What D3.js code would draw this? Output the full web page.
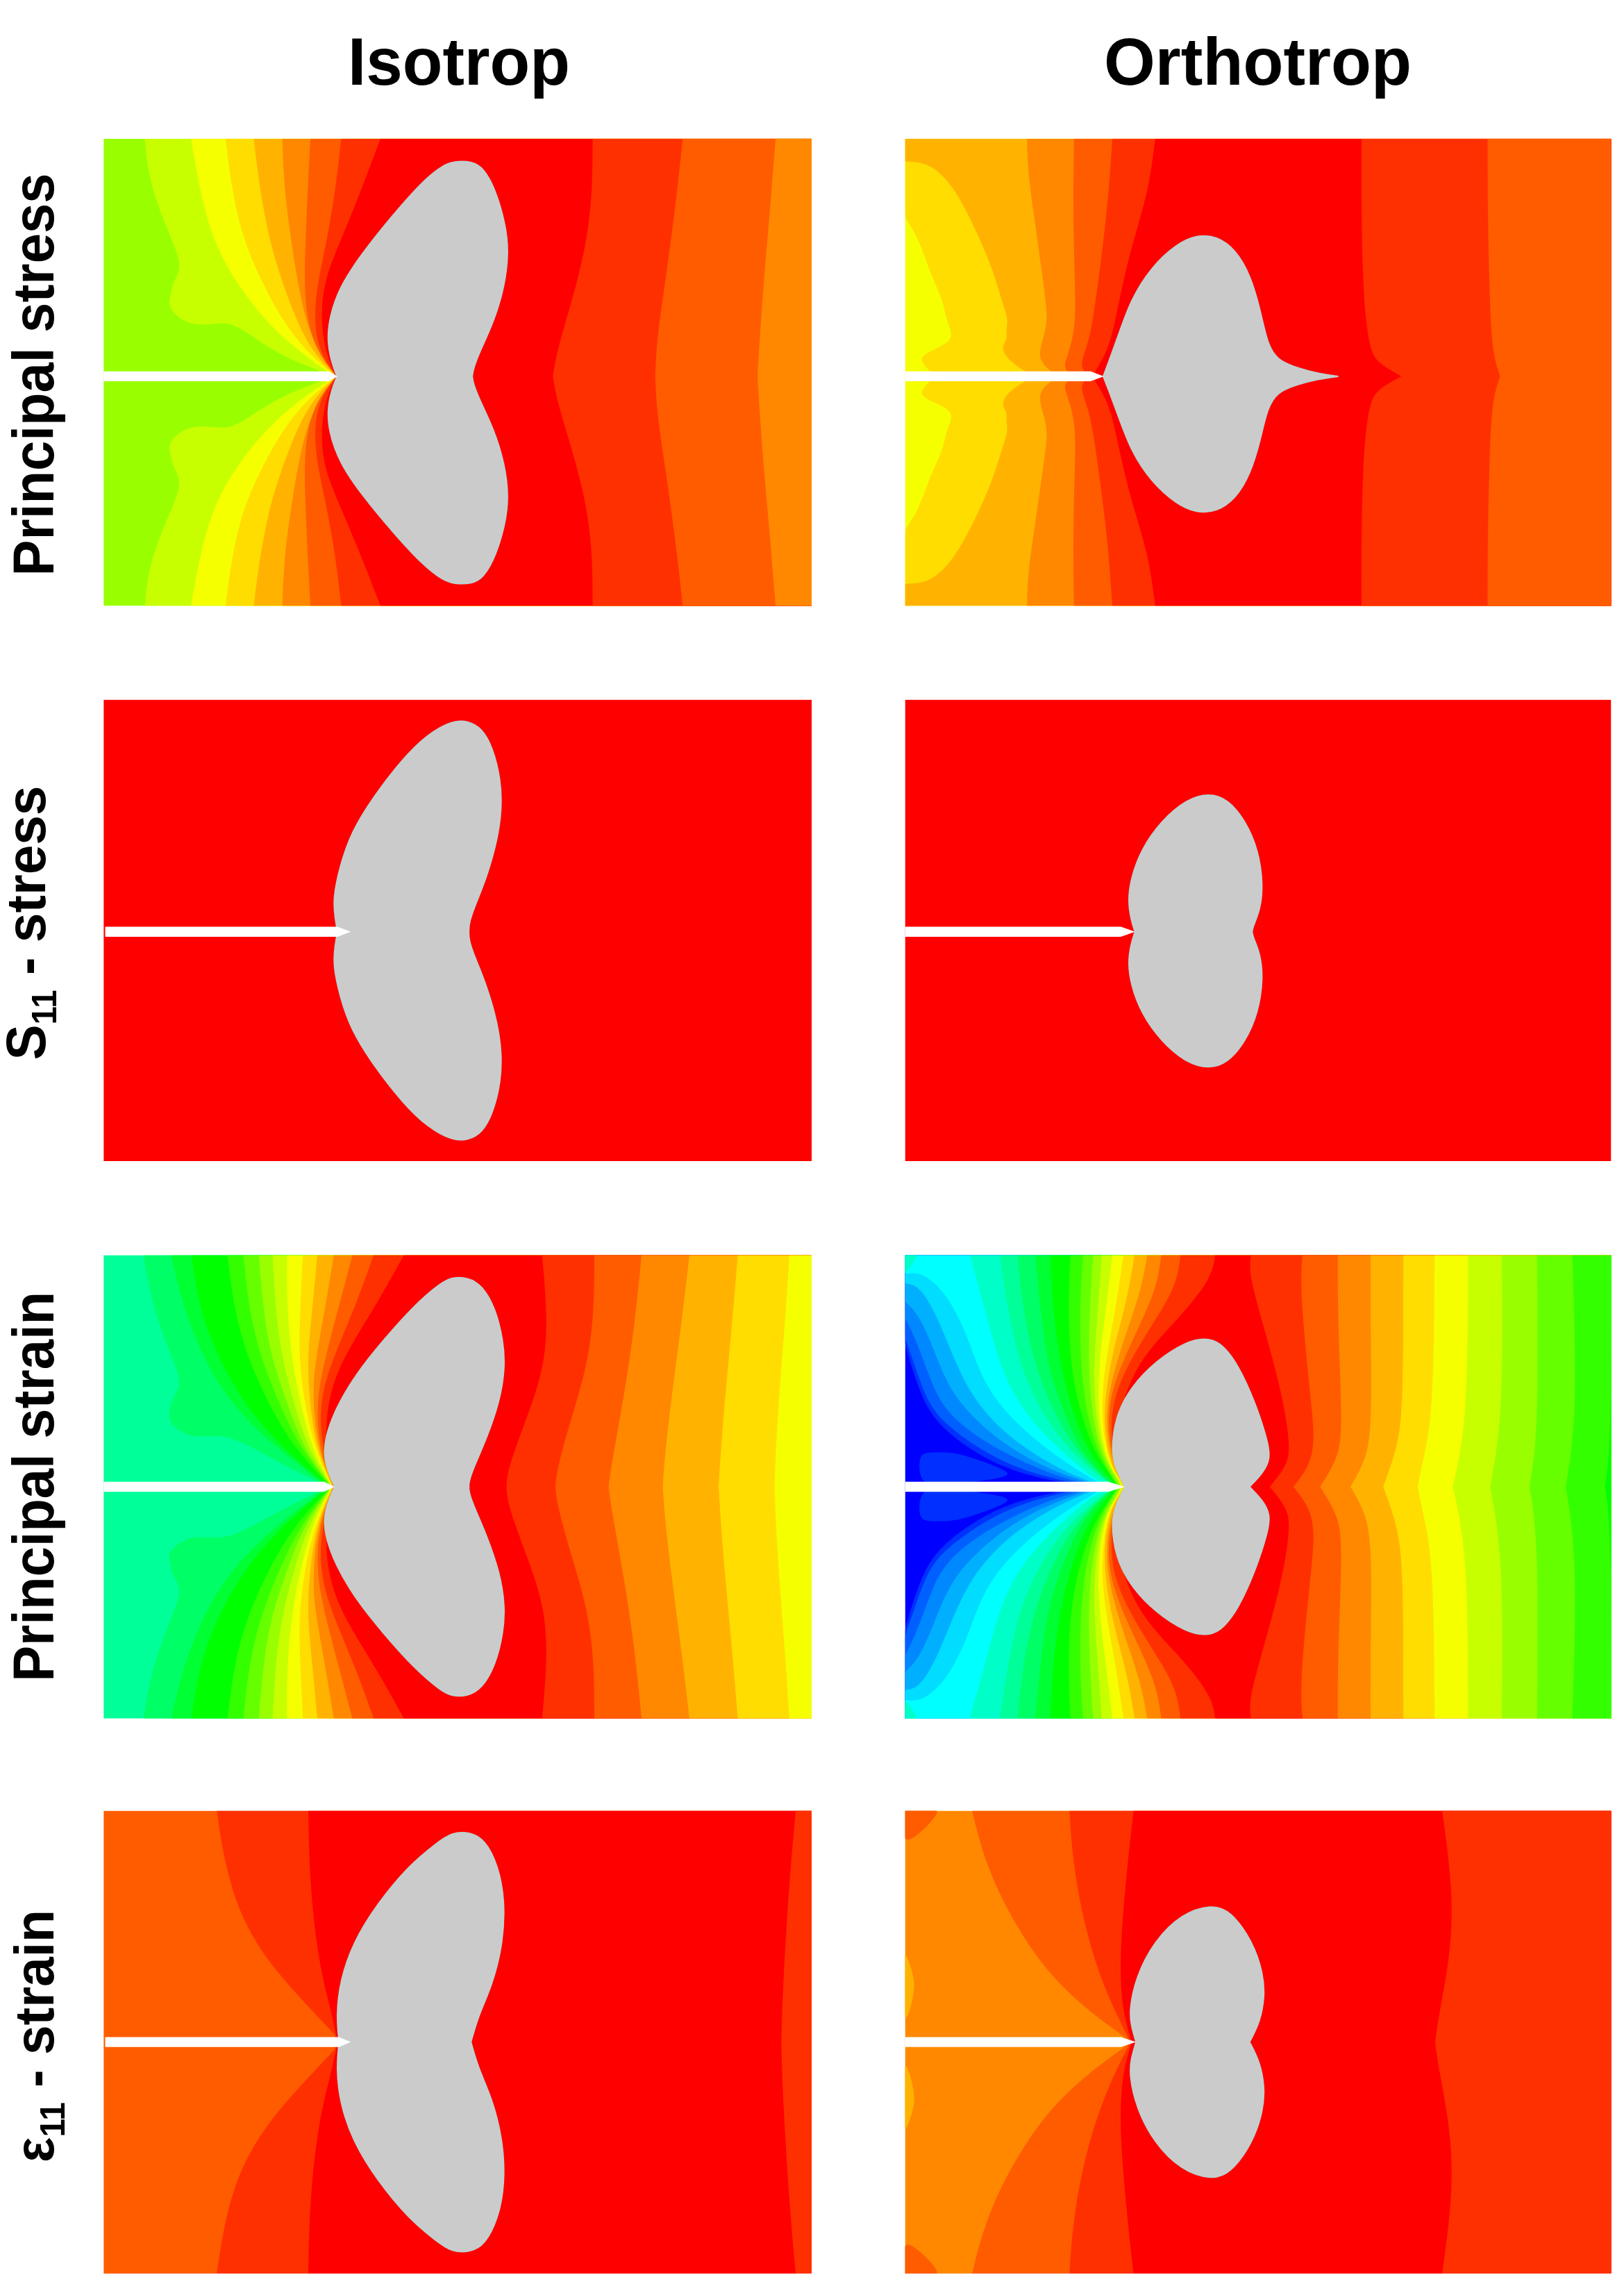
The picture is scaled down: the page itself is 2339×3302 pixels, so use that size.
<!DOCTYPE html>
<html>
<head>
<meta charset="utf-8">
<script src="https://cdn.jsdelivr.net/npm/d3@7/dist/d3.min.js"></script>
<style>
html,body{margin:0;padding:0;background:#fff}
svg{display:block}
text{font-family:"Liberation Sans",Arial,sans-serif;font-weight:bold;fill:#000;white-space:pre}
</style>
</head>
<body>
<svg id="chart" width="2339" height="3302"></svg>
<script>
// ---------- Categories ----------
const columnTitles = ["Isotrop", "Orthotrop"];
const rowTitles = [
  [{t:"Principal stress"}],
  [{t:"S"},{t:"11",sub:true},{t:" - stress"}],
  [{t:"Principal strain"}],
  [{t:"ε",thin:true},{t:"11",sub:true},{t:" - strain"}]
];

// ---------- Contour levels (0 = highest band, 22 = lowest band) ----------
const levelColors = ["#ff0000","#ff3000","#ff5c00","#ff8800","#ffb300","#ffdd00","#f5ff00","#c8ff00","#99ff00","#66ff00","#33ff00","#00ff00","#00ff33","#00ff66","#00ff99","#00ffc8","#00ffff","#00ddff","#00b0ff","#0088ff","#0060ff","#0030ff","#0000ff"];

// ---------- Isotrop, principal stress ----------
const isoStressFrame = {x:[195,1530], y:[348,945]};
const isoStressBase = 8;
const isoStressLevels = [7,6,5,4,3,2,1,0,1,2,3];
const isoStressContours = [
 [[273,348],[277,420],[295,510],[320,590],[345,670],[325,710],[322,740],[315,770],[345,810],[385,818],[435,805],[480,850],[540,900],[620,940]],
 [[360,348],[375,470],[400,600],[440,700],[490,790],[550,870],[625,940]],
 [[425,348],[435,460],[455,590],[490,700],[530,800],[575,880],[628,940]],
 [[478,348],[490,480],[510,620],[540,740],[570,840],[600,900],[630,940]],
 [[532,348],[535,470],[550,620],[565,740],[585,850],[632,940]],
 [[585,348],[580,470],[575,620],[573,760],[590,870],[632,942]],
 [[643,348],[632,480],[615,610],[597,720],[592,800],[600,880],[632,942]],
 [[717,348],[680,480],[640,610],[612,700],[604,790],[612,880],[632,942]],
 [[1117,348],[1117,480],[1105,620],[1075,770],[1050,880],[1042,945]],
 [[1287,348],[1275,500],[1255,700],[1238,850],[1235,945]],
 [[1462,348],[1452,520],[1440,700],[1432,850],[1428,945]]
];
const isoStressZone = [[635,945],[625,910],[617,860],[620,800],[640,720],[680,640],[740,540],[800,450],[835,415],[855,405],[890,405],[912,422],[935,480],[952,560],[959,630],[951,720],[930,810],[905,880],[892,925],[890,945]];
const isoStressCrack = {start:195,end:620,tip:636,half:12.5};

// ---------- Orthotrop, principal stress ----------
const orthoStressFrame = {x:[142,1542], y:[348,943]};
const orthoStressBase = 6;
const orthoStressLevels = [5,4,3,2,1,0,1,2];
const orthoStressContours = [
 [[142,348],[142,545],[142,545],[170,600],[190,680],[220,760],[222,800],[243,850],[200,875],[170,895],[180,915],[200,943]],
 [[142,348],[142,405],[142,405],[155,405],[195,412],[240,470],[280,570],[315,670],[335,760],[347,800],[342,830],[345,850],[332,870],[345,900],[375,928],[400,943]],
 [[384,348],[385,430],[400,560],[415,700],[425,790],[420,830],[410,870],[408,905],[435,935],[450,943]],
 [[477,348],[475,500],[477,640],[480,760],[478,830],[465,890],[458,910],[460,930],[480,943]],
 [[553,348],[545,500],[530,660],[515,800],[505,860],[490,910],[495,930],[510,943]],
 [[638,348],[625,480],[590,620],[565,760],[550,860],[525,920],[515,935],[530,943]],
 [[1047,348],[1047,550],[1050,700],[1055,800],[1065,880],[1080,910],[1126,943]],
 [[1297,348],[1297,500],[1300,700],[1305,880],[1322,943]]
];
const orthoStressZone = [[535,943],[545,910],[565,840],[590,750],[630,670],[680,612],[720,589],[760,592],[797,625],[827,690],[847,780],[860,860],[880,903],[920,922],[960,936],[1000,943]];
const orthoStressCrack = {start:142,end:510,tip:536,half:12.5};

// ---------- Isotrop, S11 ----------
const isoS11Frame = {x:[195,1527], y:[60,788]};
const isoS11Base = 0;
const isoS11Levels = [];
const isoS11Contours = [];
const isoS11Zone = [[635,788],[630,740],[627,680],[640,580],[660,480],[700,370],[760,240],[805,168],[850,126],[880,126],[907,150],[927,210],[942,310],[944,400],[936,500],[915,620],[895,700],[882,760],[882,788]];
const isoS11Crack = {start:198,end:635,tip:660,half:16};

// ---------- Orthotrop, S11 ----------
const orthoS11Frame = {x:[142,1542], y:[60,788]};
const orthoS11Base = 0;
const orthoS11Levels = [];
const orthoS11Contours = [];
const orthoS11Zone = [[598,788],[590,750],[584,690],[590,620],[610,530],[650,440],[700,372],[745,353],[782,372],[817,440],[842,530],[852,640],[846,720],[832,770],[830,788]];
const orthoS11Crack = {start:142,end:570,tip:598,half:16};

// ---------- Isotrop, principal strain ----------
const isoStrainFrame = {x:[195,1527], y:[58,765]};
const isoStrainBase = 14;
const isoStrainLevels = [13,12,11,10,9,8,7,6,5,4,3,2,1,0,1,2,3,4,5,6];
const isoStrainContours = [
 [[270,58],[285,200],[315,340],[345,450],[325,490],[320,530],[315,565],[345,605],[375,615],[430,603],[500,670],[610,760]],
 [[322,58],[345,220],[385,380],[430,500],[500,620],[612,760]],
 [[360,58],[375,220],[410,370],[455,500],[520,630],[615,760]],
 [[428,58],[440,220],[465,370],[505,510],[550,640],[619,760]],
 [[458,58],[468,220],[490,370],[525,510],[562,640],[620,760]],
 [[487,58],[495,220],[510,370],[540,510],[572,650],[621,760]],
 [[513,58],[518,220],[530,370],[553,510],[580,650],[622,760]],
 [[540,58],[540,220],[548,370],[565,510],[587,650],[623,760]],
 [[570,58],[565,220],[562,370],[573,510],[592,650],[624,760]],
 [[597,58],[588,220],[578,370],[582,500],[595,650],[625,760]],
 [[628,58],[612,220],[592,390],[588,500],[598,650],[626,760]],
 [[663,58],[640,200],[612,370],[595,500],[600,650],[627,760]],
 [[703,58],[672,200],[635,340],[603,480],[602,620],[627,760]],
 [[760,58],[715,190],[665,320],[625,440],[608,600],[628,760]],
 [[1020,58],[1030,240],[1025,400],[990,560],[955,710],[953,765]],
 [[1118,58],[1118,230],[1105,400],[1070,580],[1047,720],[1045,765]],
 [[1207,58],[1195,260],[1175,480],[1150,700],[1145,765]],
 [[1297,58],[1285,230],[1265,470],[1250,680],[1247,765]],
 [[1388,58],[1378,260],[1360,560],[1352,765]],
 [[1485,58],[1478,240],[1462,560],[1457,765]]
];
const isoStrainZone = [[630,765],[620,730],[610,680],[611,620],[630,530],[670,420],[720,320],[780,210],[830,142],[850,126],[880,126],[907,150],[932,220],[947,320],[950,400],[941,500],[915,620],[890,710],[882,750],[882,765]];
const isoStrainCrack = {start:195,end:610,tip:630,half:15.5};

// ---------- Orthotrop, principal strain ----------
const orthoStrainFrame = {x:[142,1542], y:[58,765]};
const orthoStrainBase = 22;
const orthoStrainLevels = [21,20,19,18,17,16,15,14,13,12,11,10,9,8,7,6,5,4,3,2,1,0,1,2,3,4,5,6,7,8,9,10,11];
const orthoStrainContours = [
 [[142,58],[142,330],[142,330],[155,400],[175,490],[200,560],[250,630],[330,705],[430,748],[520,765]],
 [[142,58],[142,310],[142,310],[160,390],[180,480],[205,550],[260,620],[345,700],[445,745],[525,765]],
 [[142,58],[142,250],[142,250],[165,320],[190,430],[215,520],[270,600],[360,680],[455,740],[530,765]],
 [[142,58],[142,200],[142,200],[170,240],[200,350],[230,470],[285,570],[370,670],[465,735],[535,765]],
 [[142,58],[142,145],[142,145],[170,150],[205,240],[240,380],[275,490],[330,590],[400,670],[480,735],[540,765]],
 [[142,58],[142,115],[142,115],[175,108],[225,175],[265,300],[290,420],[330,520],[390,610],[450,680],[505,735],[545,765]],
 [[270,58],[300,220],[330,400],[370,520],[420,610],[470,680],[520,745],[555,765]],
 [[330,58],[345,220],[370,400],[410,530],[455,630],[500,700],[555,765]],
 [[365,58],[375,220],[400,400],[435,530],[470,630],[515,710],[558,765]],
 [[400,58],[410,220],[425,400],[455,530],[485,640],[525,720],[560,765]],
 [[430,58],[435,220],[450,400],[475,540],[500,640],[535,720],[562,765]],
 [[470,58],[465,220],[470,400],[490,540],[515,650],[545,720],[564,765]],
 [[495,58],[488,220],[490,400],[503,550],[525,660],[550,730],[566,765]],
 [[515,58],[508,220],[505,400],[513,550],[532,670],[555,730],[568,765]],
 [[532,58],[525,220],[515,400],[520,560],[538,680],[560,730],[570,765]],
 [[553,58],[540,230],[525,400],[525,560],[542,690],[563,735],[572,765]],
 [[575,58],[560,220],[537,400],[530,550],[545,690],[565,735],[574,765]],
 [[597,58],[582,200],[550,370],[533,550],[547,690],[568,740],[576,765]],
 [[622,58],[610,170],[565,360],[537,530],[549,680],[570,740],[577,765]],
 [[650,58],[640,170],[585,340],[540,510],[550,670],[572,745],[578,765]],
 [[688,58],[680,160],[610,320],[550,490],[550,650],[572,745],[578,765]],
 [[757,58],[750,130],[680,260],[590,400],[550,640],[575,750],[580,765]],
 [[828,58],[823,110],[850,260],[890,480],[906,640],[900,700],[865,765]],
 [[930,58],[925,170],[945,480],[955,620],[945,700],[912,765]],
 [[1000,58],[1000,270],[1010,590],[1000,680],[965,765]],
 [[1065,58],[1065,300],[1068,610],[1050,700],[1025,765]],
 [[1130,58],[1130,500],[1120,640],[1090,765]],
 [[1192,58],[1190,530],[1170,680],[1158,765]],
 [[1258,58],[1258,560],[1228,765]],
 [[1325,58],[1328,550],[1302,765]],
 [[1395,58],[1398,600],[1380,765]],
 [[1465,58],[1475,550],[1452,765]],
 [[1542,58],[1542,640],[1530,765]]
];
const orthoStrainIslands = [
 {level:21, points:[[175,670],[215,660],[260,670],[345,725],[300,745],[180,748]]},
 {level:15, points:[[142,58],[165,58],[158,80],[142,110]]}
];
const orthoStrainZone = [[578,765],[560,710],[551,660],[559,550],[590,460],[640,380],[700,322],[735,311],[767,322],[802,390],[837,510],[862,630],[866,680],[852,722],[825,765]];
const orthoStrainCrack = {start:142,end:545,tip:578,half:15.5};

// ---------- Isotrop, e11 ----------
const isoE11Frame = {x:[195,1527], y:[60,783]};
const isoE11Base = 2;
const isoE11Levels = [1,0,1];
const isoE11Contours = [
 [[408,60],[420,200],[445,360],[490,500],[550,620],[630,760]],
 [[580,60],[583,300],[600,540],[622,680],[635,780]],
 [[1497,60],[1485,280],[1473,600],[1470,783]]
];
const isoE11Zone = [[638,783],[633,700],[640,590],[665,470],[710,350],[770,230],[820,163],[850,127],[885,127],[912,150],[937,230],[950,340],[946,480],[925,610],[900,700],[886,783]];
const isoE11Crack = {start:198,end:638,tip:660,half:15.5};

// ---------- Orthotrop, e11 ----------
const orthoE11Frame = {x:[142,1542], y:[60,783]};
const orthoE11Base = 3;
const orthoE11Levels = [2,1,0,1];
const orthoE11Contours = [
 [[275,60],[300,220],[350,390],[420,560],[500,680],[580,770]],
 [[468,60],[475,230],[500,440],[540,630],[585,770]],
 [[595,60],[580,270],[567,520],[572,680],[590,775]],
 [[1207,60],[1228,300],[1225,500],[1200,700],[1193,783]]
];
const orthoE11Islands = [
 {level:2, points:[[142,60],[205,60],[190,100],[150,150],[142,145]]},
 {level:4, points:[[142,510],[160,600],[145,705],[142,705]]}
];
const orthoE11Zone = [[600,783],[590,730],[587,680],[600,580],[635,470],[690,382],[750,353],[787,372],[832,470],[852,570],[855,640],[846,720],[825,783]];
const orthoE11Crack = {start:142,end:570,tip:600,half:15.5};

// ---------- Assembly ----------
const colX = [[149.2,1169],[1303.5,2320.5]];
const rowY = [[199.7,542,872.4],[1007.6,1341.8,1672],[1807.4,2141,2474.7],[2607.6,2940.6,3274]];
const panels = [
 {c:0,r:0,frame:isoStressFrame,base:isoStressBase,levels:isoStressLevels,contours:isoStressContours,zone:isoStressZone,crack:isoStressCrack},
 {c:1,r:0,frame:orthoStressFrame,base:orthoStressBase,levels:orthoStressLevels,contours:orthoStressContours,zone:orthoStressZone,crack:orthoStressCrack},
 {c:0,r:1,frame:isoS11Frame,base:isoS11Base,levels:isoS11Levels,contours:isoS11Contours,zone:isoS11Zone,crack:isoS11Crack},
 {c:1,r:1,frame:orthoS11Frame,base:orthoS11Base,levels:orthoS11Levels,contours:orthoS11Contours,zone:orthoS11Zone,crack:orthoS11Crack},
 {c:0,r:2,frame:isoStrainFrame,base:isoStrainBase,levels:isoStrainLevels,contours:isoStrainContours,zone:isoStrainZone,crack:isoStrainCrack},
 {c:1,r:2,frame:orthoStrainFrame,base:orthoStrainBase,levels:orthoStrainLevels,contours:orthoStrainContours,zone:orthoStrainZone,crack:orthoStrainCrack,islands:orthoStrainIslands},
 {c:0,r:3,frame:isoE11Frame,base:isoE11Base,levels:isoE11Levels,contours:isoE11Contours,zone:isoE11Zone,crack:isoE11Crack},
 {c:1,r:3,frame:orthoE11Frame,base:orthoE11Base,levels:orthoE11Levels,contours:orthoE11Contours,zone:orthoE11Zone,crack:orthoE11Crack,islands:orthoE11Islands}
];

const svg = d3.select("#chart");
svg.append("rect").attr("width",2339).attr("height",3302).attr("fill","#fff");
const color = d3.scaleOrdinal().domain(d3.range(levelColors.length)).range(levelColors);
const defs = svg.append("defs");

panels.forEach((p,i) => {
  const [top,mid] = p.frame.y;
  const span = mid - top;
  const x = d3.scaleLinear().domain(p.frame.x).range(colX[p.c]);
  const y = d3.scaleLinear().domain([top,mid,mid+span]).range(rowY[p.r]);
  const mirror = pts => pts.map(([a,b]) => [a, 2*mid-b]).reverse();
  const line = d3.line().x(d=>x(d[0])).y(d=>y(d[1])).curve(d3.curveBasis);
  const both = pts => line(pts) + line(mirror(pts)).replace(/^M/,"L");

  defs.append("clipPath").attr("id","clip"+i).append("rect")
    .attr("x",x.range()[0]).attr("width",x.range()[1]-x.range()[0])
    .attr("y",y(top)).attr("height",y(mid+span)-y(top));
  const g = svg.append("g").attr("clip-path",`url(#clip${i})`);

  g.append("rect")
    .attr("x",x.range()[0]).attr("width",x.range()[1]-x.range()[0])
    .attr("y",y(top)).attr("height",y(mid+span)-y(top))
    .attr("fill",color(p.base));

  g.selectAll("path.band").data(p.contours).join("path").attr("class","band")
    .attr("fill",(d,k)=>color(p.levels[k]))
    .attr("d",d => both(d) + `L${x.range()[1]+4},${y(mid+span)}L${x.range()[1]+4},${y(top)}Z`);

  (p.islands||[]).forEach(isl => {
    const l = d3.line().x(d=>x(d[0])).y(d=>y(d[1])).curve(d3.curveCatmullRomClosed.alpha(0.5));
    g.append("path").attr("fill",color(isl.level)).attr("d",l(isl.points));
    g.append("path").attr("fill",color(isl.level)).attr("d",l(mirror(isl.points)));
  });

  g.append("path").attr("fill","#cbcbcb").attr("stroke","#bcd2d2").attr("stroke-width",2)
    .attr("stroke-linejoin","round")
    .attr("d",both(p.zone)+"Z");

  const c = p.crack;
  const crackPts = [[c.start,mid-c.half],[c.end,mid-c.half],[c.tip,mid],[c.end,mid+c.half],[c.start,mid+c.half]];
  g.append("path").attr("fill","#fff")
    .attr("d",d3.line().x(d=>x(d[0])).y(d=>y(d[1]))(crackPts)+"Z");
});

// ---------- Titles ----------
const colTitlePos = [[501,320],[1590,443]];
columnTitles.forEach((t,i)=>{
  const s = svg.append("text").attr("font-size",96).text(t);
  const k = colTitlePos[i][1]/s.node().getComputedTextLength();
  s.attr("transform",`translate(${colTitlePos[i][0]},122) scale(${k},1)`);
});

// Each label part is its own text, all stretched by a common factor to the label's length.
const rowLabelPos = [[76.5,829.4,580,83],[65,1526.5,395,80],[76.5,2421.8,562,83],[76.5,3114,364,80]];
rowTitles.forEach((parts,i)=>{
  const [bx,by,want,fs] = rowLabelPos[i];
  const nodes = parts.map(pt=>{
    const s = svg.append("text").attr("font-size",pt.sub?fs*0.62:fs).text(pt.t);
    if(pt.thin) s.attr("font-weight","normal");
    return {s, pt, len:s.node().getComputedTextLength()};
  });
  const k = want/d3.sum(nodes,n=>n.len);
  let pos = 0;
  nodes.forEach(n=>{
    const bxp = bx + (n.pt.sub ? fs*0.2 : 0);
    n.s.attr("transform",`translate(${bxp},${by-pos}) rotate(-90) scale(${k},1)`);
    pos += n.len*k;
  });
});
</script>
</body>
</html>
